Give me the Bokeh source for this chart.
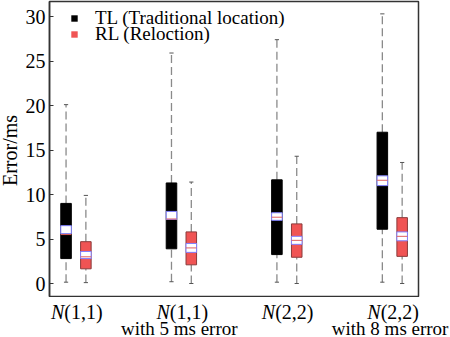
import math
from bokeh.plotting import figure
from bokeh.layouts import column, row
from bokeh.models import (Legend, LegendItem, ColumnDataSource, Range1d, FixedTicker)
from bokeh.core.properties import value
from bokeh.embed import file_html
from bokeh.resources import INLINE

# ---- data ----
main_labels = ["(1,1)", "(1,1)", "(2,2)", "(2,2)"]
note_labels = ["", "with 5 ms error", "", "with 8 ms error"]
series_names = ["TL (Traditional location)", "RL (Reloction)"]
y_label = "Error/ms"
y_ticks = [0, 5, 10, 15, 20, 25, 30]

tl_min = [0.15, 0.2, 0.15, 0.15]
tl_q1 = [2.8, 3.9, 3.25, 6.1]
tl_band_lo = [5.6, 7.2, 7.1, 11.0]
tl_med = [5.5, 7.25, 7.45, 11.6]
tl_band_hi = [6.5, 8.1, 7.95, 12.1]
tl_q3 = [9.0, 11.3, 11.65, 17.0]
tl_max = [20.1, 25.9, 27.4, 30.3]

rl_min = [0.1, 0.0, 0.0, 0.0]
rl_q1 = [1.65, 2.1, 2.95, 3.05]
rl_band_lo = [2.8, 3.5, 4.4, 4.8]
rl_med = [3.0, 4.0, 4.85, 5.3]
rl_band_hi = [3.6, 4.5, 5.3, 5.8]
rl_q3 = [4.7, 5.8, 6.7, 7.4]
rl_max = [9.9, 11.4, 14.3, 13.6]

FONT = "Liberation Serif"
FS = "20px"
LFS = "19px"

W = 450
STRIP = 22          # width of the strip holding the y-axis title
LEFT, RIGHT = 49, 32
TOP_H, BOT_H = 297, 40
X0, X1 = 0.75, 4.25


def bare(fig):
    fig.frame_align = False
    fig.axis.visible = False
    fig.grid.visible = False
    fig.outline_line_color = None
    fig.background_fill_color = "white"
    fig.border_fill_color = "white"


# ---- y-axis title strip ----
py = figure(width=STRIP, height=TOP_H, output_backend="svg", toolbar_location=None,
            x_range=Range1d(0, STRIP), y_range=Range1d(TOP_H, 0),
            min_border_left=0, min_border_right=0, min_border_top=0,
            min_border_bottom=0)
bare(py)
py.text(x=[9.5], y=[150], text=[y_label], angle=math.pi / 2, text_font=value(FONT),
        text_font_size=FS, text_align="center", text_baseline="middle",
        text_color="black")

# ---- main plot ----
p = figure(width=W - STRIP, height=TOP_H, output_backend="svg", toolbar_location=None,
           x_range=Range1d(X0, X1), y_range=Range1d(-1.46, 31.69),
           min_border_left=LEFT - STRIP, min_border_right=RIGHT, min_border_top=1,
           min_border_bottom=1)
p.frame_align = False
p.background_fill_color = "white"
p.border_fill_color = "white"
p.outline_line_color = "#333333"
p.outline_line_width = 1.5
p.xgrid.visible = False
p.ygrid.visible = False
p.xaxis.visible = False

ya = p.yaxis[0]
ya.ticker = FixedTicker(ticks=y_ticks)
ya.major_tick_in = 4
ya.major_tick_out = 0
ya.minor_tick_line_color = None
ya.axis_line_color = "#333333"
ya.axis_line_width = 1.5
ya.major_tick_line_color = "#333333"
ya.major_label_text_font = FONT
ya.major_label_text_font_size = FS
ya.major_label_text_color = "black"
ya.major_label_standoff = 4

pos = [i + 1 for i in range(len(main_labels))]
half_w = 0.05
cap = 0.02


def draw_series(offset, mn, q1, blo, med, bhi, q3, mx, fill, outline):
    xs = [x + offset for x in pos]
    src = ColumnDataSource(dict(
        x=xs, x0=[x - half_w for x in xs], x1=[x + half_w for x in xs],
        c0=[x - cap for x in xs], c1=[x + cap for x in xs],
        mn=mn, q1=q1, blo=blo, med=med, bhi=bhi, q3=q3, mx=mx))
    p.segment(x0="x", y0="q3", x1="x", y1="mx", source=src,
              line_color="#8a8a8a", line_width=1.3, line_dash="8 4")
    p.segment(x0="x", y0="mn", x1="x", y1="q1", source=src,
              line_color="#8a8a8a", line_width=1.3, line_dash="8 4")
    p.segment(x0="c0", y0="mx", x1="c1", y1="mx", source=src,
              line_color="#555555", line_width=1)
    p.segment(x0="c0", y0="mn", x1="c1", y1="mn", source=src,
              line_color="#555555", line_width=1)
    p.vbar(x="x", width=2 * half_w, bottom="q1", top="q3", source=src,
           fill_color=fill, line_color=outline, line_width=1)
    p.vbar(x="x", width=2 * half_w, bottom="blo", top="bhi", source=src,
           fill_color="white", line_color="#8080ff", line_width=1)
    p.segment(x0="x0", y0="med", x1="x1", y1="med", source=src,
              line_color="#e06060", line_width=1)
    return src


tl_src = draw_series(-0.093, tl_min, tl_q1, tl_band_lo, tl_med, tl_band_hi, tl_q3,
                     tl_max, "black", "black")
rl_src = draw_series(0.095, rl_min, rl_q1, rl_band_lo, rl_med, rl_band_hi, rl_q3,
                     rl_max, "#f05454", "#8a3a3a")

# legend: one single-item legend per series; key renderers have zero size in the plot
legend_colors = ["black", "#f05454"]
legend_bottoms = [266, 250]
for name, col, src, yb in zip(series_names, legend_colors, [tl_src, rl_src],
                              legend_bottoms):
    r = p.scatter(x="x", y="med", source=src, marker="square", size=0,
                  fill_color=col, line_color=None)
    lg = Legend(items=[LegendItem(label=name, renderers=[r])],
                location=(17, yb))
    lg.background_fill_alpha = 0
    lg.border_line_color = None
    lg.margin = 0
    lg.padding = 0
    lg.spacing = 0
    lg.glyph_width = 16
    lg.glyph_height = 24
    lg.label_height = 24
    lg.label_standoff = 13
    lg.label_text_font = FONT
    lg.label_text_font_size = LFS
    lg.label_text_color = "black"
    p.add_layout(lg, "center")

# ---- category labels in a strip under the frame (same x scale as the plot) ----
px_per_unit = (W - LEFT - RIGHT) / (X1 - X0)
p2 = figure(width=W, height=BOT_H, output_backend="svg", toolbar_location=None,
            x_range=Range1d(X0 - LEFT / px_per_unit, X1 + RIGHT / px_per_unit),
            y_range=Range1d(BOT_H, 0),
            min_border_left=0, min_border_right=0, min_border_top=0,
            min_border_bottom=0)
bare(p2)

lab = ColumnDataSource(dict(x=pos, main=main_labels, note=note_labels,
                            n=["N"] * len(pos)))
p2.text(x="x", y=14.5, text="n", source=lab, text_font=value(FONT),
        text_font_size=FS, text_font_style="italic", text_align="right",
        text_baseline="middle", x_offset=-11.5, text_color="black")
p2.text(x="x", y=14.5, text="main", source=lab, text_font=value(FONT),
        text_font_size=FS, text_align="left", text_baseline="middle",
        x_offset=-11.5, text_color="black")
p2.text(x="x", y=30.5, text="note", source=lab, text_font=value(FONT),
        text_font_size=LFS, text_align="center", text_baseline="middle",
        x_offset=-2, text_color="black")

layout = column(row(py, p, spacing=0), p2, spacing=0)
open("out.html", "w").write(file_html(layout, INLINE))
